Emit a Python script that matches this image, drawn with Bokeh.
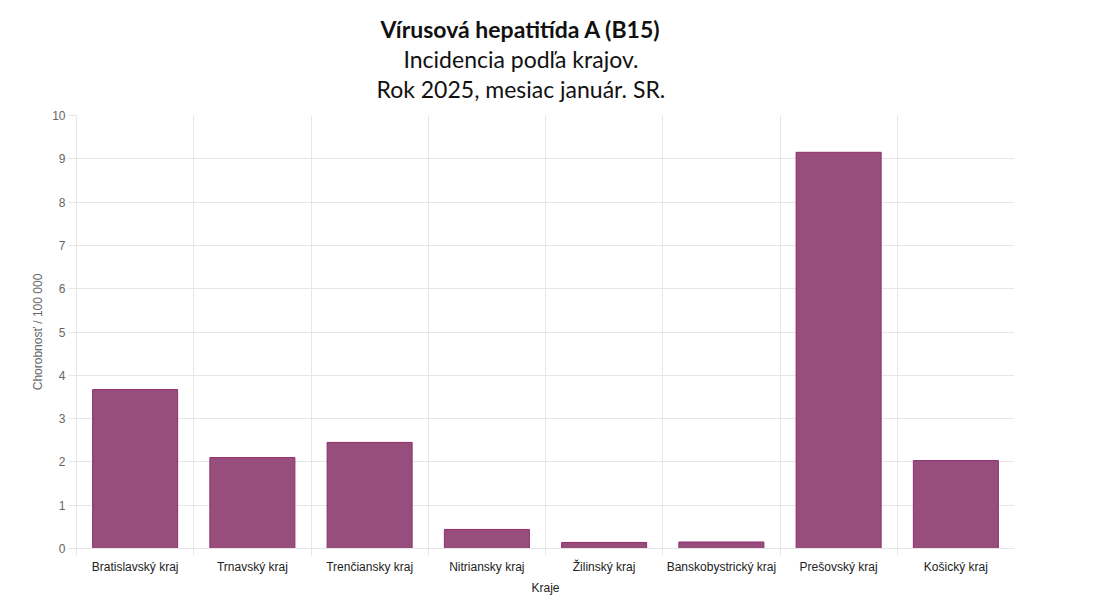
from bokeh.plotting import figure
from bokeh.models import FixedTicker, LinearAxis, Title, Range1d, ColumnDataSource
from bokeh.embed import file_html
from bokeh.resources import INLINE

categories = ["Bratislavský kraj", "Trnavský kraj", "Trenčiansky kraj", "Nitriansky kraj",
              "Žilinský kraj", "Banskobystrický kraj", "Prešovský kraj", "Košický kraj"]
values = [3.67, 2.10, 2.45, 0.44, 0.14, 0.15, 9.15, 2.03]
y_ticks = [0, 1, 2, 3, 4, 5, 6, 7, 8, 9, 10]
title_lines = ["Vírusová hepatitída A (B15)", "Incidencia podľa krajov.", "Rok 2025, mesiac január. SR."]
y_label = "Chorobnosť / 100 000"
x_label = "Kraje"

GRID = "#e6e6e6"
FONT = "Liberation Sans"
TFONT = "Lato"

n = len(categories)
centers = [i + 0.5 for i in range(n)]
source = ColumnDataSource(dict(x=centers, top=values, name=categories))

p = figure(width=1097, height=597, x_range=Range1d(0, n), y_range=Range1d(0, 10),
           output_backend="svg", toolbar_location=None, x_axis_location=None,
           min_border_left=76, min_border_right=83, min_border_bottom=10, min_border_top=115,
           title=title_lines[0])
p.outline_line_color = None
p.background_fill_color = "white"
p.border_fill_color = "white"

p.title.text_font = TFONT
p.title.text_font_size = "23px"
p.title.text_font_style = "bold"
p.title.text_color = "#111111"
p.title.align = "left"
p.title.offset = 304
p.title.standoff = 0

# spacer between the title block and the frame (innermost)
p.add_layout(Title(text=" ", text_font_size="10px", standoff=0), "above")
# lines stack outward: add the bottom line first
for txt, off in [(title_lines[2], 300), (title_lines[1], 327)]:
    t = Title(text=txt, text_font=TFONT, text_font_size="23px", text_font_style="normal",
              text_color="#111111", align="left", offset=off, standoff=0)
    p.add_layout(t, "above")

# grids
p.ygrid.ticker = FixedTicker(ticks=y_ticks)
p.ygrid.grid_line_color = GRID
p.xgrid.ticker = FixedTicker(ticks=list(range(0, n)))
p.xgrid.grid_line_color = GRID

# y axis
ya = p.yaxis[0]
ya.ticker = FixedTicker(ticks=y_ticks)
ya.axis_line_color = GRID
ya.major_tick_line_color = GRID
ya.major_tick_out = 8
ya.major_tick_in = 0
ya.minor_tick_line_color = None
ya.major_label_text_font = FONT
ya.major_label_text_font_size = "12px"
ya.major_label_text_color = "#666666"
ya.major_label_standoff = 3
ya.axis_label = y_label
ya.axis_label_text_font = FONT
ya.axis_label_text_font_size = "12px"
ya.axis_label_text_font_style = "normal"
ya.axis_label_text_color = "#666666"
ya.axis_label_standoff = 4

# boundary tick axis
tick_axis = LinearAxis(ticker=FixedTicker(ticks=list(range(0, n))),
                       major_label_overrides={i: "" for i in range(0, n)})
tick_axis.axis_line_color = GRID
tick_axis.major_tick_line_color = GRID
tick_axis.major_tick_out = 7
tick_axis.major_tick_in = 0
tick_axis.minor_tick_line_color = None
tick_axis.major_label_standoff = 0
tick_axis.major_label_text_font_size = "1px"
p.add_layout(tick_axis, "below")

# category label axis
lab_axis = LinearAxis(ticker=FixedTicker(ticks=centers),
                      major_label_overrides={c: name for c, name in zip(centers, categories)})
lab_axis.axis_line_color = None
lab_axis.major_tick_line_color = None
lab_axis.minor_tick_line_color = None
lab_axis.major_label_text_font = FONT
lab_axis.major_label_text_font_size = "12px"
lab_axis.major_label_text_color = "#222222"
lab_axis.major_label_standoff = -2
lab_axis.axis_label = x_label
lab_axis.axis_label_text_font = FONT
lab_axis.axis_label_text_font_size = "12px"
lab_axis.axis_label_text_font_style = "normal"
lab_axis.axis_label_text_color = "#222222"
lab_axis.axis_label_standoff = 4
p.add_layout(lab_axis, "below")

p.vbar(x="x", top="top", width=0.725, bottom=0, source=source,
       fill_color="#984e7d", line_color="#8e2d6d", line_width=1)

open("out.html", "w").write(file_html(p, INLINE))
